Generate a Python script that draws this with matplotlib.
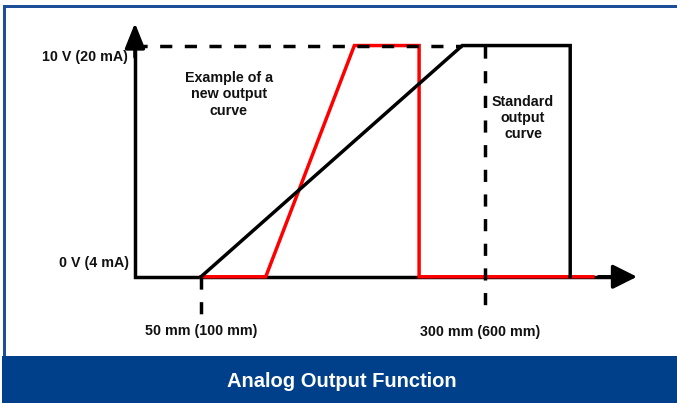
import matplotlib.pyplot as plt
from matplotlib.patches import Rectangle

# chart values (position in mm, output in V)
std_x = [50, 280, 375, 375]
std_y = [0, 10, 10, 0]
new_x = [50, 107, 185, 242, 242, 395]
new_y = [0, 0, 10, 10, 0, 0]
mark_x = [50, 300]
mark_labels = ['50 mm (100 mm)', '300 mm (600 mm)']
level_y = [10, 0]
level_labels = ['10 V (20 mA)', '0 V (4 mA)']
title = 'Analog Output Function'

W, H = 677, 403
BLUE = '#00408a'
RED = '#ff0000'
LW = 2.5
FONT = ['Liberation Sans', 'DejaVu Sans']

fig = plt.figure(figsize=(W / 100, H / 100), dpi=100)
ax = fig.add_axes([0, 0, 1, 1])
ax.set_xlim(-126.9, 469.0)
ax.set_ylim(-5.46, 11.97)
ax.axis('off')


def px_rect(x0, y0, x1, y1, color):
    # rectangle given in pixel coords measured from the top-left corner
    fig.add_artist(Rectangle((x0 / W, 1 - y1 / H), (x1 - x0) / W, (y1 - y0) / H,
                             transform=fig.transFigure, color=color, lw=0))


# frame and footer band
px_rect(3, 5, W, 8, '#1d4f98')
px_rect(3, 5, 6, 356, '#1d4f98')
px_rect(2, 356, W, H, BLUE)
fig.text(342 / W, (H - 387) / H, title, color='white', fontsize=14.5,
         fontweight='bold', family=FONT, ha='center', va='baseline')

# axes with arrows
x0 = -8.1
ax.plot([x0, x0, 420], [10.3, 0, 0], color='k', lw=LW,
        solid_joinstyle='miter', solid_capstyle='butt', zorder=1)
ax.annotate('', xy=(x0, 10.97), xytext=(x0, 9.5),
            arrowprops=dict(arrowstyle='-|>,head_length=0.4,head_width=0.16',
                            mutation_scale=38, lw=LW, color='k',
                            shrinkA=0, shrinkB=0), zorder=1)
ax.annotate('', xy=(433.8, 0), xytext=(400, 0),
            arrowprops=dict(arrowstyle='-|>,head_length=0.4,head_width=0.2',
                            mutation_scale=37, lw=LW, color='k',
                            shrinkA=0, shrinkB=0), zorder=1)

# new output curve (red) under the standard one
ax.plot(new_x, new_y, color=RED, lw=LW, solid_joinstyle='miter', zorder=2)
ax.plot(std_x, std_y, color='k', lw=LW, solid_joinstyle='miter', zorder=3)

# dashed guide lines (black dashes over the red top give the red/black look)
dash = (0, (3.5, 3.6))
ax.plot([x0, std_x[1]], [10, 10], color='k', lw=LW, linestyle=dash, zorder=4)
ax.plot([mark_x[0], mark_x[0]], [0, -1.7], color='k', lw=LW, linestyle=dash, zorder=4)
ax.plot([mark_x[1], mark_x[1]], [10, -1.52], color='k', lw=LW, linestyle=dash, zorder=4)

# labels
txt = dict(fontsize=10.3, fontweight='bold', family=FONT, color='#111111')
ax.text(-14.2, 9.51, level_labels[0], ha='right', va='center', **txt)
ax.text(-13.5, 0.59, level_labels[1], ha='right', va='center', **txt)
ax.text(mark_x[0], -2.34, mark_labels[0], ha='center', va='center', **txt)
ax.text(mark_x[1] - 4, -2.38, mark_labels[1], ha='center', va='center', **txt)
ax.text(74.6, 7.9, 'Example of a\nnew output\ncurve', ha='center', va='center',
        linespacing=1.22, **txt)
ax.text(333.5, 6.88, 'Standard\noutput\ncurve', ha='center', va='center',
        linespacing=1.18, **txt)

fig.savefig('out.png', dpi=100)
